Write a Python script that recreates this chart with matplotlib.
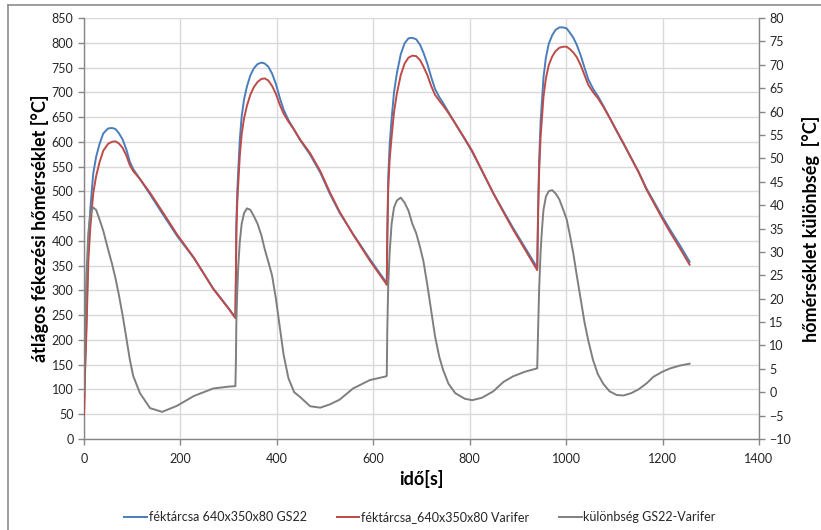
import matplotlib
matplotlib.use("Agg")
import matplotlib.pyplot as plt
from matplotlib.lines import Line2D

plt.rcParams['font.family'] = ['Lato', 'DejaVu Sans']

# time [s]
time_s = [0, 2, 5, 9, 13, 19, 25, 32, 40, 50, 58, 65, 72, 80, 88, 95, 102, 116, 137, 162, 193, 228, 268, 300, 314,
          315, 316, 318, 320, 323, 327, 332, 338, 345, 352, 360, 368, 375, 382, 390, 398, 406, 414, 424, 436, 448,
          469, 490, 510, 530, 558, 593, 627,
          628, 629, 631, 634, 638, 643, 649, 657, 665, 673, 681, 689, 697, 704, 712, 720, 728, 737, 745, 756, 770,
          790, 805, 825, 849, 870, 890, 915, 940,
          942, 944, 947, 950, 953, 958, 964, 971, 978, 986, 994, 1001, 1008, 1015, 1022, 1030, 1038, 1046, 1056,
          1066, 1077, 1090, 1105, 1119, 1135, 1150, 1167, 1181, 1200, 1216, 1236, 1256]

# féktárcsa 640x350x80 GS22
gs22 = [50, 143, 240, 394, 463, 535, 569, 595, 617, 627, 628, 626, 618, 605, 584, 560, 545, 525, 494, 456, 410, 365, 304, 264, 245,
        326, 435, 502, 543, 602, 651, 686, 712, 734, 748, 757, 760, 758, 752, 738, 717, 689, 665, 644, 624, 604,
        574, 538, 495, 457, 414, 363, 316,
        315, 413, 528, 595, 646, 700, 739, 777, 799, 809, 810, 807, 796, 780, 758, 731, 707, 690, 678, 660, 637,
        605, 580, 542, 496, 460, 426, 386, 346,
        474, 562, 640, 685, 730, 770, 798, 815, 826, 831, 831, 829, 820, 810, 796, 775, 750, 726, 707,
        692, 673, 649, 621, 596, 567, 540, 505, 481, 448, 422, 391, 358]

# féktárcsa_640x350x80 Varifer
varifer = [50, 130, 215, 360, 425, 495, 530, 558, 582, 596, 600, 601, 597, 588, 572, 553, 541, 525, 497, 460, 413, 366, 303, 263, 244,
           320, 420, 480, 516, 570, 615, 648, 673, 695, 710, 721, 727, 728, 724, 713, 697, 675, 657, 641, 624, 605,
           577, 541, 498, 459, 413, 360, 313,
           311, 400, 505, 565, 610, 660, 698, 735, 758, 770, 774, 773, 765, 752, 735, 713, 695, 683, 673, 658, 637,
           606, 582, 543, 496, 458, 423, 382, 341,
           460, 540, 610, 650, 691, 728, 755, 772, 783, 790, 792, 792, 787, 780, 771, 755, 735, 715, 700,
           688, 671, 649, 622, 597, 567, 539, 503, 478, 444, 417, 385, 352]

# különbség GS22-Varifer
diff = [0, 13, 25, 34, 38, 39.5, 39, 37, 34.5, 30.5, 27.5, 24.5, 21, 16.5, 11.5, 7, 3.5, -0.2, -3.4, -4.2, -2.9, -0.8, 0.8, 1.2, 1.3,
        6, 15, 22, 27, 32, 36, 38.3, 39.3, 39, 37.7, 36, 33.5, 30.5, 28, 25, 20, 14, 8, 3, 0, -1.0,
        -3.0, -3.3, -2.6, -1.6, 0.8, 2.6, 3.4,
        3.6, 13, 23, 30, 36, 39.5, 41, 41.6, 40.5, 38.8, 36, 34, 31, 28, 23, 17.5, 12, 7.5, 4.7, 1.8, -0.2,
        -1.4, -1.7, -1.2, 0.2, 2.2, 3.4, 4.4, 5.1,
        14, 22, 30, 35, 39, 41.8, 43, 43.2, 42.5, 41.2, 39, 37, 33.5, 29.6, 25, 20, 15, 11, 6.8,
        3.8, 1.8, 0.2, -0.6, -0.7, -0.2, 0.6, 1.9, 3.3, 4.4, 5.1, 5.7, 6.1]

x_ticks = list(range(0, 1401, 200))
y_ticks = list(range(0, 851, 50))
y2_ticks = list(range(-10, 81, 5))

W, H = 821, 530
fig = plt.figure(figsize=(W / 100, H / 100), dpi=100)
ax = fig.add_axes([84 / W, 1 - 439 / H, (759 - 84) / W, (439 - 18) / H])
ax2 = ax.twinx()

c_blue = '#4a7ebb'
c_red = '#be4b48'
c_gray = '#7f7f7f'
grid_c = '#d9d9d9'
spine_c = '#868686'
txt_c = '#262626'

l1, = ax.plot(time_s, gs22, color=c_blue, lw=1.4, zorder=3, label='féktárcsa 640x350x80 GS22')
l2, = ax.plot(time_s, varifer, color=c_red, lw=1.4, zorder=4, label='féktárcsa_640x350x80 Varifer')
l3, = ax2.plot(time_s, diff, color=c_gray, lw=1.4, zorder=3, label='különbség GS22-Varifer')

ax.set_xlim(0, 1400)
ax.set_ylim(0, 850)
ax2.set_ylim(-10, 80)
ax.set_xticks(x_ticks)
ax.set_yticks(y_ticks)
ax2.set_yticks(y2_ticks)

ax.grid(True, color=grid_c, lw=1.0)
ax.set_axisbelow(True)

for a in (ax, ax2):
    for s in a.spines.values():
        s.set_color(spine_c)
        s.set_linewidth(1.0)
    a.spines['top'].set_visible(False)
    a.tick_params(colors=spine_c, labelcolor=txt_c, labelsize=9, length=4, width=1.0)
ax.tick_params(axis='x', pad=6)
ax.spines['right'].set_visible(False)
ax2.spines['left'].set_visible(False)
ax2.spines['bottom'].set_visible(False)

ax.set_xlabel('idő[s]', fontsize=13, fontweight='bold', color='black', labelpad=4)
ax.set_ylabel('átlágos fékezési hőmérséklet [°C]', fontsize=13, fontweight='bold', color='black', labelpad=2)
ax2.set_ylabel('hőmérséklet különbség  [°C]', fontsize=13, fontweight='bold', color='black', labelpad=8)

fig.legend(handles=[l1, l2, l3], loc='center', bbox_to_anchor=(420 / W, 1 - 517 / H), ncol=3,
           frameon=False, fontsize=9, handlelength=1.8, handletextpad=0.15, columnspacing=2.4,
           labelcolor=txt_c)

# outer chart border (left and top edges visible)
fig.add_artist(Line2D([8 / W, 8 / W], [0, 1 - 5 / H], transform=fig.transFigure, color='#8c8c8c', lw=1.2))
fig.add_artist(Line2D([8 / W, 1], [1 - 5 / H, 1 - 5 / H], transform=fig.transFigure, color='#8c8c8c', lw=1.2))

fig.savefig('out.png', dpi=100, facecolor='white')
